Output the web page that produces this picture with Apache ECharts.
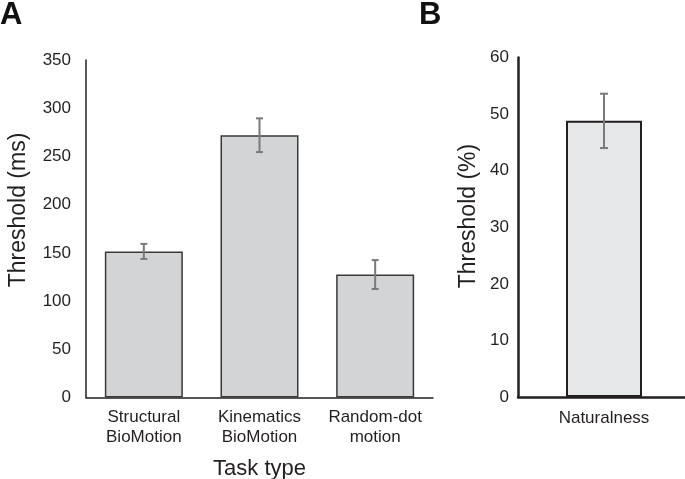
<!DOCTYPE html>
<html>
<head>
<meta charset="utf-8">
<script src="https://cdn.jsdelivr.net/npm/echarts@6/dist/echarts.min.js"></script>
<style>
html,body{margin:0;padding:0;background:#fff;}
#c{width:685px;height:479px;}
</style>
</head>
<body>
<div id="c"></div>
<script>
// Panel A data
var categoriesA = ['Structural\nBioMotion', 'Kinematics\nBioMotion', 'Random-dot\nmotion'];
var meansA = [151.5, 272, 127.5];
var errorsA = [7.8, 17.5, 15];
var ticksA = [0, 50, 100, 150, 200, 250, 300, 350];
// Panel B data
var categoriesB = ['Naturalness'];
var meansB = [48.8];
var errorsB = [4.8];
var ticksB = [0, 10, 20, 30, 40, 50, 60];

var FONT = '"Liberation Sans", Arial, sans-serif';
var TXT = '#231f20';

function errData(means, errs) {
  return means.map(function (m, i) { return [i, m - errs[i], m + errs[i]]; });
}
function errRender(halfCap, lw) {
  return function (params, api) {
    var x = api.value(0);
    var lo = api.coord([x, api.value(1)]);
    var hi = api.coord([x, api.value(2)]);
    var st = { stroke: '#7a7a7a', lineWidth: lw };
    return {
      type: 'group',
      children: [
        { type: 'line', shape: { x1: hi[0], y1: hi[1], x2: lo[0], y2: lo[1] }, style: st },
        { type: 'line', shape: { x1: hi[0] - halfCap, y1: hi[1], x2: hi[0] + halfCap, y2: hi[1] }, style: st },
        { type: 'line', shape: { x1: lo[0] - halfCap, y1: lo[1], x2: lo[0] + halfCap, y2: lo[1] }, style: st }
      ]
    };
  };
}

var chart = echarts.init(document.getElementById('c'), null, { renderer: 'canvas' });
var option = {
  animation: false,
  backgroundColor: '#ffffff',
  textStyle: { fontFamily: FONT },
  grid: [
    { left: 86, top: 60, width: 347, height: 337.5, containLabel: false, outerBoundsMode: 'none' },
    { left: 518, top: 57.5, width: 172, height: 339.5, containLabel: false, outerBoundsMode: 'none' }
  ],
  xAxis: [
    {
      gridIndex: 0, type: 'category', data: categoriesA,
      axisLine: { lineStyle: { color: TXT, width: 1.5 } },
      axisTick: { show: false },
      axisLabel: { interval: 0, hideOverlap: false, fontSize: 17, color: TXT, lineHeight: 20, margin: 10, fontFamily: FONT },
      name: 'Task type', nameLocation: 'middle', nameGap: 60,
      nameTextStyle: { fontSize: 22, color: TXT, fontFamily: FONT }
    },
    {
      gridIndex: 1, type: 'category', data: categoriesB,
      axisLine: { lineStyle: { color: TXT, width: 2.5 } },
      axisTick: { show: false },
      axisLabel: { interval: 0, fontSize: 17, color: TXT, lineHeight: 20, margin: 11, fontFamily: FONT }
    }
  ],
  yAxis: [
    {
      gridIndex: 0, type: 'value', min: 0, max: 350, interval: 50,
      axisLine: { show: true, lineStyle: { color: TXT, width: 1.5 } },
      axisTick: { show: false },
      splitLine: { show: false },
      axisLabel: { fontSize: 17, color: TXT, margin: 15, fontFamily: FONT }
    },
    {
      gridIndex: 1, type: 'value', min: 0, max: 60, interval: 10,
      axisLine: { show: true, lineStyle: { color: TXT, width: 2.5 } },
      axisTick: { show: false },
      splitLine: { show: false },
      axisLabel: { fontSize: 17, color: TXT, margin: 9, fontFamily: FONT }
    }
  ],
  series: [
    {
      type: 'bar', xAxisIndex: 0, yAxisIndex: 0, data: meansA, barWidth: 78,
      itemStyle: { color: '#d3d4d6', borderColor: '#3a3a3a', borderWidth: 1.5 }
    },
    {
      type: 'custom', xAxisIndex: 0, yAxisIndex: 0, data: errData(meansA, errorsA),
      renderItem: errRender(3.5, 2), z: 5
    },
    {
      type: 'bar', xAxisIndex: 1, yAxisIndex: 1, data: meansB, barWidth: 76,
      itemStyle: { color: '#e6e7e8', borderColor: TXT, borderWidth: 2 }
    },
    {
      type: 'custom', xAxisIndex: 1, yAxisIndex: 1, data: errData(meansB, errorsB),
      renderItem: errRender(4, 2), z: 5
    }
  ],
  graphic: [
    { type: 'text', left: 0, top: 0, style: { text: 'A', font: 'bold 31px ' + FONT, fill: '#111' } },
    { type: 'text', left: 419, top: 0, style: { text: 'B', font: 'bold 31px ' + FONT, fill: '#111' } },
    { type: 'text', x: 19, y: 210, rotation: Math.PI / 2,
      style: { text: 'Threshold (ms)', font: '23px ' + FONT, fill: TXT, align: 'center', verticalAlign: 'middle' } },
    { type: 'text', x: 469, y: 216, rotation: Math.PI / 2,
      style: { text: 'Threshold (%)', font: '23px ' + FONT, fill: TXT, align: 'center', verticalAlign: 'middle' } }
  ]
};
chart.setOption(option);
</script>
</body>
</html>
